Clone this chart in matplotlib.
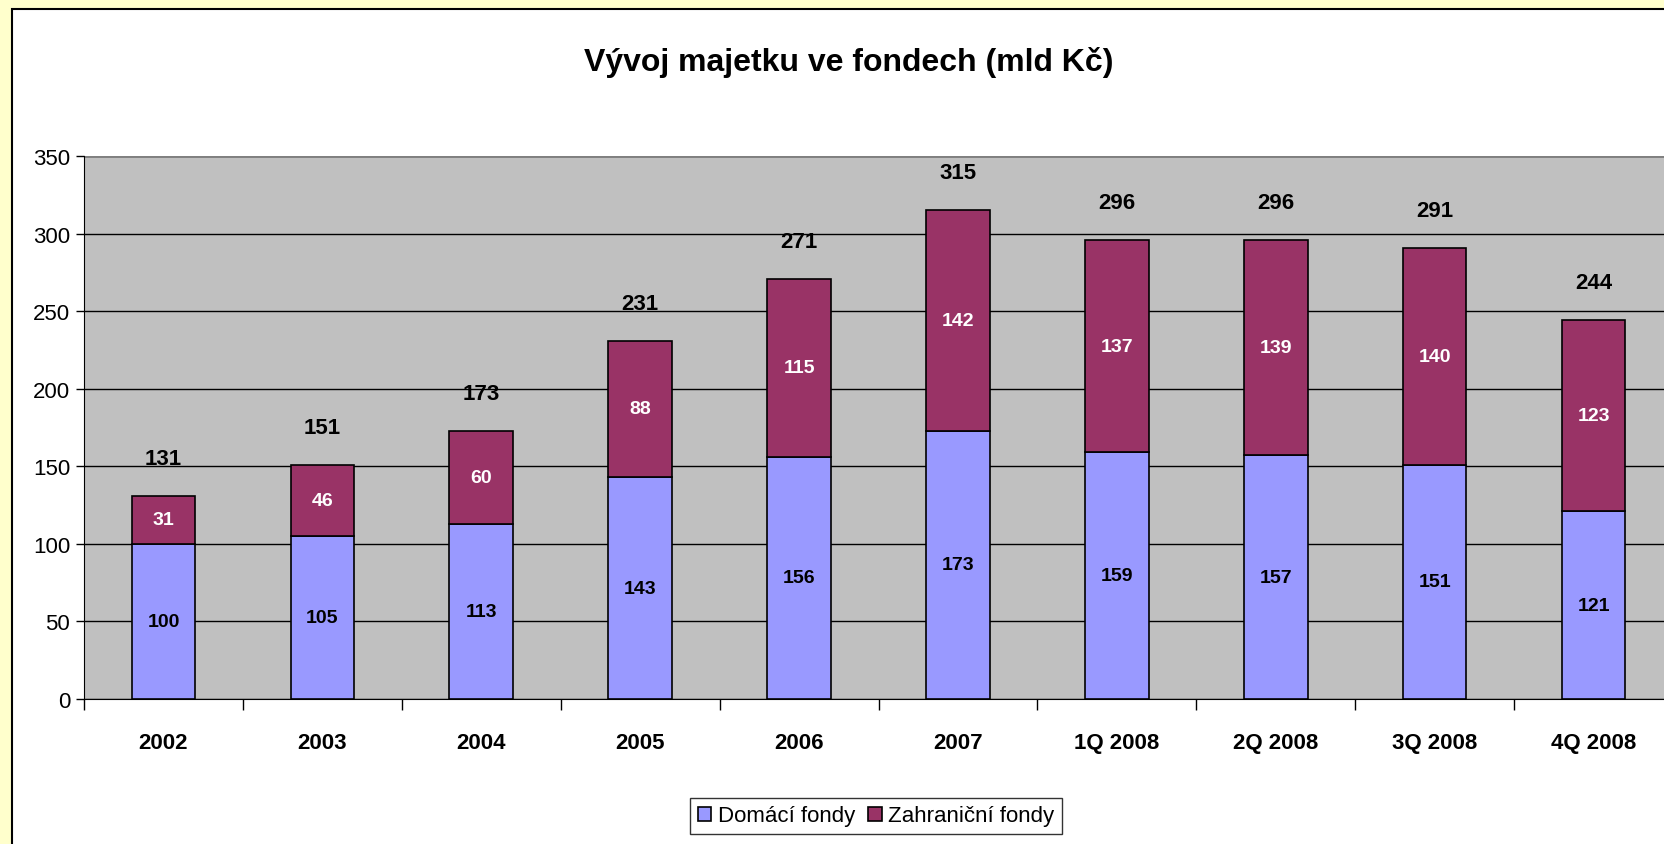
import matplotlib.pyplot as plt
from matplotlib.patches import Rectangle
from matplotlib.transforms import offset_copy

# Data
categories = ['2002', '2003', '2004', '2005', '2006', '2007',
              '1Q 2008', '2Q 2008', '3Q 2008', '4Q 2008']
domestic = [100, 105, 113, 143, 156, 173, 159, 157, 151, 121]
foreign = [31, 46, 60, 88, 115, 142, 137, 139, 140, 123]
totals = [131, 151, 173, 231, 271, 315, 296, 296, 291, 244]

plt.rcParams['font.family'] = ['Liberation Sans', 'DejaVu Sans']

fig = plt.figure(figsize=(16.64, 8.45), dpi=100, facecolor='#FFFFCC')

# white chart area with black border (runs off the right/bottom edge)
fig.patches.append(Rectangle((12 / 1664, -0.1), 1.2, 1.1 - 10 / 845,
                             transform=fig.transFigure, facecolor='white',
                             edgecolor='black', linewidth=1.5, zorder=-10))

ax = fig.add_axes([84 / 1664, 145 / 845, 1589 / 1664, 543 / 845])
ax.set_facecolor('#C0C0C0')

x = range(len(categories))
w = 0.40
ax.bar(x, domestic, w, color='#9999FF', edgecolor='black', linewidth=1.2, zorder=3,
       label='Domácí fondy')
ax.bar(x, foreign, w, bottom=domestic, color='#993366', edgecolor='black',
       linewidth=1.2, zorder=3, label='Zahraniční fondy')

for i, (d, f, t) in enumerate(zip(domestic, foreign, totals)):
    ax.text(i, d / 2, str(d), ha='center', va='center', fontsize=14,
            fontweight='bold', color='black', zorder=4)
    ax.text(i, d + f / 2, str(f), ha='center', va='center', fontsize=14,
            fontweight='bold', color='white', zorder=4)
    tr = offset_copy(ax.transData, fig=fig, x=0, y=27, units='dots')
    ax.text(i, t, str(t), ha='center', va='bottom', fontsize=16,
            fontweight='bold', transform=tr, zorder=4)

ax.set_xlim(-0.5, len(categories) - 0.5)
ax.set_ylim(0, 350)
ax.set_yticks(range(0, 351, 50))
ax.yaxis.grid(True, color='black', linewidth=1)
ax.set_axisbelow(True)

ax.set_xticks(list(x))
ax.set_xticklabels(categories, fontsize=16, fontweight='bold')
ax.set_xticks([i + 0.5 for i in range(-1, len(categories))], minor=True)
ax.tick_params(axis='x', which='major', length=0, pad=24)
ax.tick_params(axis='x', which='minor', length=8, direction='out', width=1)
ax.tick_params(axis='y', labelsize=16, length=6, width=1, pad=4)

for side in ['top', 'right']:
    ax.spines[side].set_visible(False)
ax.spines['left'].set_color('black')
ax.spines['bottom'].set_color('black')
ax.axhline(350, color='#808080', linewidth=2, zorder=2)

fig.text(849 / 1664, 1 - 63 / 845, 'Vývoj majetku ve fondech (mld Kč)',
         ha='center', va='center', fontsize=23, fontweight='bold')

leg = fig.legend(loc='center', bbox_to_anchor=(876 / 1664, 1 - 817 / 845),
                 ncol=2, fontsize=16, frameon=True, fancybox=False,
                 edgecolor='black', handlelength=0.6, handleheight=0.6,
                 handletextpad=0.3, columnspacing=0.6, borderpad=0.35)
leg.get_frame().set_linewidth(1)

fig.savefig('out.png', dpi=100, facecolor=fig.get_facecolor())
